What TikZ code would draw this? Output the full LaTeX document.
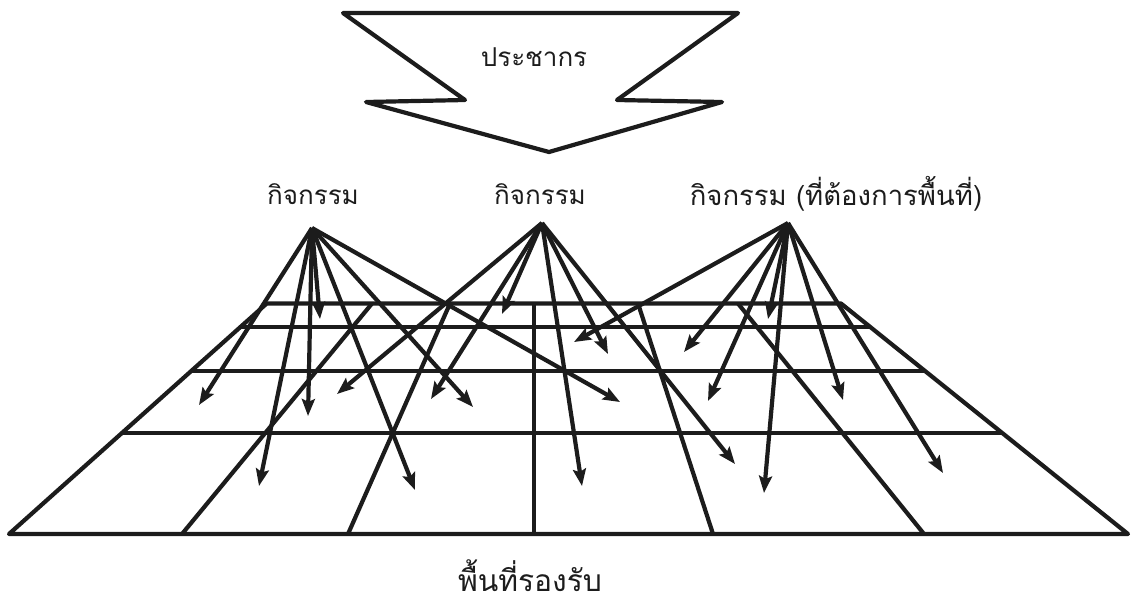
\documentclass[tikz,border=0pt]{standalone}
\usepackage{fontspec}
\usepackage{xcolor}
\usepackage{tikz}
\usetikzlibrary{arrows.meta}
\newfontfamily\thaifont[Script=Thai]{Loma}
\definecolor{inkdark}{HTML}{1C1C1C}

\begin{document}
\begin{tikzpicture}[x=1pt,y=-1pt,
      gridline/.style={draw=inkdark,line width=4.2pt,line join=round},
      arr/.style={gridline,-{Stealth[length=17pt,width=13pt,inset=3pt]}},
      thaitext/.style={inner sep=0pt,text=inkdark,
                       font=\thaifont\fontsize{26}{30}\selectfont}]
  \useasboundingbox (0,0) rectangle (1131,611);
  \draw[gridline] (343,13) -- (738,13) -- (617,100) -- (722,102) -- (549,152)
                  -- (366,102) -- (465,100) -- cycle;
  \node[thaitext] (pop)  at (534,57)  {ประชากร};
  \node[thaitext] (act1) at (313,194) {กิจกรรม};
  \node[thaitext] (act2) at (540,194) {กิจกรรม};
  \node[thaitext,font=\thaifont\fontsize{27.5}{30}\selectfont] (act3) at (836,194) {กิจกรรม (ที่ต้องการพื้นที่)};
  \node[thaitext,font=\thaifont\fontsize{30}{34}\selectfont] (area) at (530,576) {พื้นที่รองรับ};
  \coordinate (lapex) at (312,228);
  \coordinate (mapex) at (542,223);
  \coordinate (rapex) at (788,223);
  \coordinate (bl) at (9,534);
  \coordinate (br) at (1128,534);
  \coordinate (tl) at (266.7,303.5);
  \coordinate (tr) at (841,303.5);
  \draw[gridline] (bl) -- (tl) -- (tr) -- (br) -- cycle;
  \draw[gridline] (240.4,327) -- (870.3,327);
  \draw[gridline] (191.2,371) -- (925.1,371);
  \draw[gridline] (121.9,433) -- (1002.3,433);
  \draw[gridline] (372,303.5) -- (182,534);
  \draw[gridline] (450,303.5) -- (348,534);
  \draw[gridline] (534,303.5) -- (534,534);
  \draw[gridline] (638,303.5) -- (713,534);
  \draw[gridline] (738,303.5) -- (924,534);
  \foreach \tx/\ty [count=\i] in {199/405,259/486,308/416,320/319,415/490,473/407,620/402}{
    \coordinate (lt\i) at (\tx,\ty);
    \draw[arr] (lapex) -- (lt\i);
  }
  \foreach \tx/\ty [count=\i] in {337/394,431/399,502/314,582/486,608/354,735/464}{
    \coordinate (mt\i) at (\tx,\ty);
    \draw[arr] (mapex) -- (mt\i);
  }
  \foreach \tx/\ty [count=\i] in {574/342,684/352,708/401,768/319,764/493,843/400,943/473}{
    \coordinate (rt\i) at (\tx,\ty);
    \draw[arr] (rapex) -- (rt\i);
  }
\end{tikzpicture}
\end{document}
